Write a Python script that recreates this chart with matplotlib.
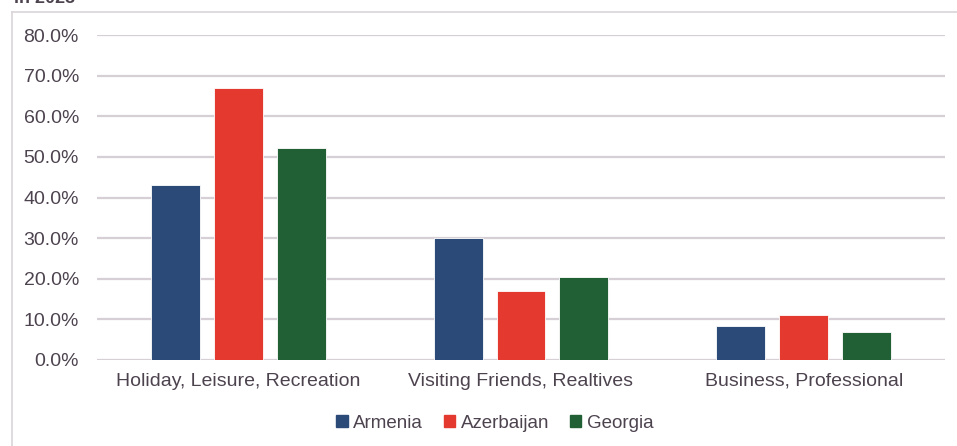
import matplotlib.pyplot as plt
import numpy as np
from matplotlib.patches import Patch
from matplotlib.lines import Line2D

categories = ['Holiday, Leisure, Recreation', 'Visiting Friends, Realtives', 'Business, Professional']
countries = ['Armenia', 'Azerbaijan', 'Georgia']
armenia = [43.1, 30.0, 8.4]
azerbaijan = [67.0, 17.0, 11.1]
georgia = [52.2, 20.4, 6.9]
colors = ['#2b4a78', '#e4392e', '#215f35']
yticks = [0, 10, 20, 30, 40, 50, 60, 70, 80]

txt = '#4d434f'
plt.rcParams['font.family'] = ['Liberation Sans', 'DejaVu Sans']

fig = plt.figure(figsize=(9.57, 4.46), dpi=100)
ax = fig.add_axes([97/957, 86/446, 848/957, 325/446])

x = np.arange(len(categories))
w = 0.173
step = 0.222
for i, (vals, c, name) in enumerate(zip([armenia, azerbaijan, georgia], colors, countries)):
    ax.bar(x + (i - 1)*step, vals, width=w, color=c, label=name, zorder=3,
           edgecolor='white', linewidth=0.6)

ax.set_xlim(-0.5, 2.5)
ax.set_ylim(0, 80)
ax.set_yticks(yticks)
ax.set_yticklabels(['%.1f%%' % v for v in yticks])
ax.set_xticks(x)
ax.set_xticklabels(categories)
ax.tick_params(axis='both', length=0, labelsize=14, colors=txt)
ax.tick_params(axis='y', pad=13)
ax.tick_params(axis='x', pad=9)
ax.grid(axis='y', color='#d6d0d6', linewidth=1.6, zorder=0)
for s in ax.spines.values():
    s.set_visible(False)

# outer chart frame (partly cropped)
fig.add_artist(Line2D([12/957, 12/957], [0, 1 - 12/446], color='#d9d4d9', linewidth=1.2))
fig.add_artist(Line2D([12/957, 1], [1 - 12/446, 1 - 12/446], color='#d9d4d9', linewidth=1.2))
fig.text(0.015, 1.004, 'in 2023', fontsize=13, fontweight='bold', color=txt, va='center')

handles = [Patch(color=c) for c in colors]
fig.legend(handles, countries, loc='center', bbox_to_anchor=(0.517, 1 - 423/446),
           ncol=3, frameon=False, fontsize=13.5, labelcolor=txt,
           handlelength=0.6, handleheight=0.6, handletextpad=0.3, columnspacing=1.1)

fig.savefig('out.png', dpi=100)
